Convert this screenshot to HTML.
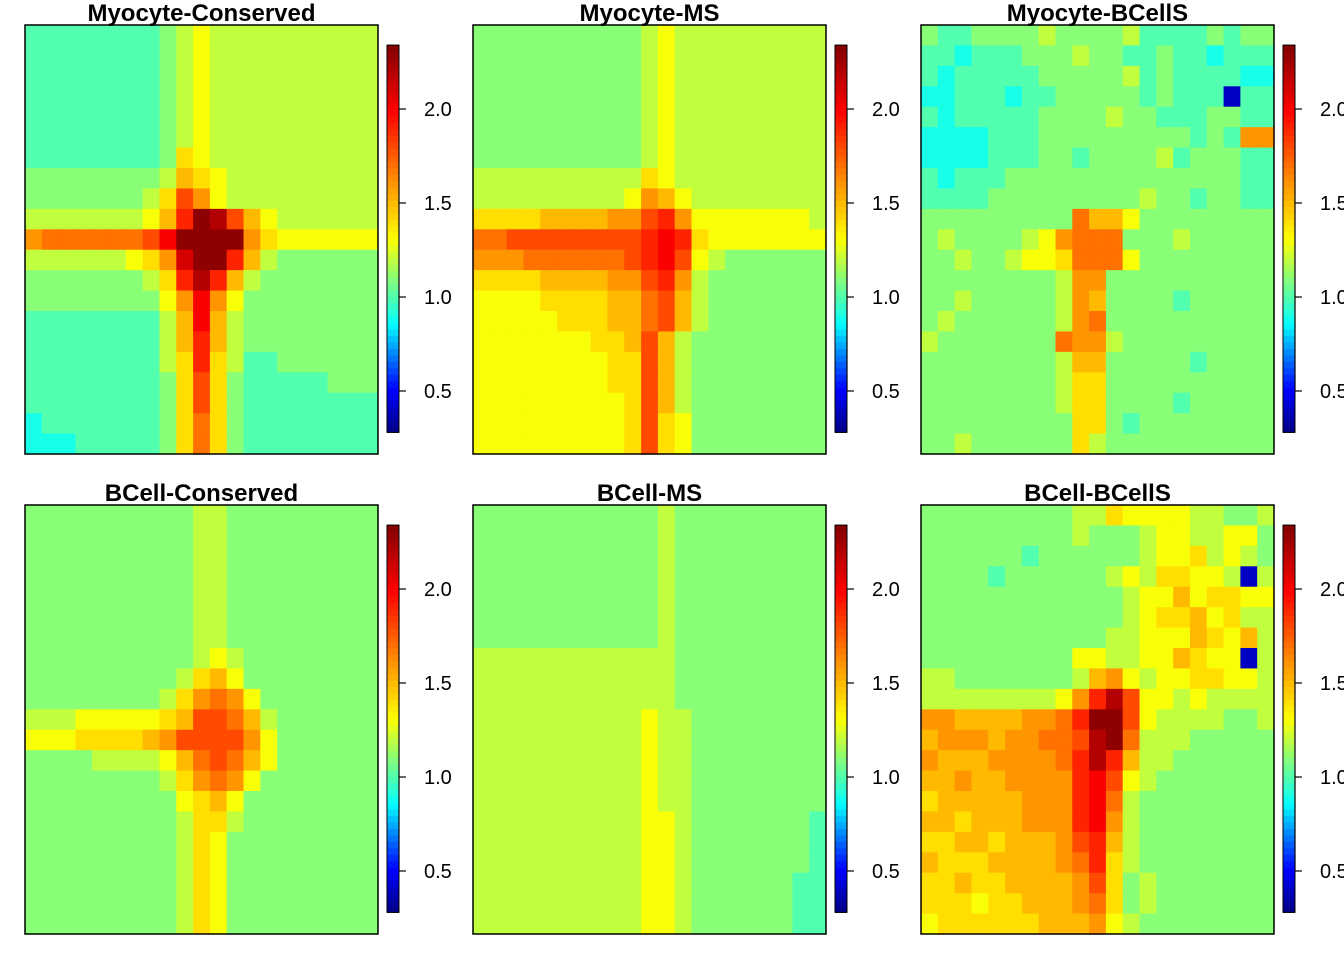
<!DOCTYPE html>
<html><head><meta charset="utf-8"><style>
html,body{margin:0;padding:0;background:#fff;overflow:hidden}
svg{display:block}
</style></head><body>
<svg id="fig" width="1344" height="960" viewBox="0 0 1344 960" xmlns="http://www.w3.org/2000/svg" font-family="Liberation Sans, Arial, sans-serif"></svg>
<script>
// Value encoding: letter index k -> value 0.3 + 0.1*k (a=0.3 ... u=2.3)
const panelTitles = ["Myocyte-Conserved","Myocyte-MS","Myocyte-BCellS","BCell-Conserved","BCell-MS","BCell-BCellS"];
const colorbarTicks = [0.5, 1.0, 1.5, 2.0];
const colorbarTickLabels = ["0.5","1.0","1.5","2.0"];
const scaleMin = 0.28, scaleMax = 2.34;
const gridMC = ["hhhhhhhhijkjjjjjjjjjj","hhhhhhhhijkjjjjjjjjjj","hhhhhhhhijkjjjjjjjjjj","hhhhhhhhijkjjjjjjjjjj","hhhhhhhhijkjjjjjjjjjj","hhhhhhhhijkjjjjjjjjjj","hhhhhhhhilkjjjjjjjjjj","iiiiiiiijmlkjjjjjjjjj","iiiiiiijlpnkjjjjjjjjj","jjjjjjjkmqutpmkjjjjjj","noooooopruuuunlkkkkkk","jjjjjjklnsuuqmjiiiiii","iiiiiiijlqtqmjiiiiiii","iiiiiiiiknrnkiiiiiiii","hhhhhhhhjmrmjiiiiiiii","hhhhhhhhjmqmjiiiiiiii","hhhhhhhhjlqljhhiiiiii","hhhhhhhhilplihhhhhiii","hhhhhhhhilplihhhhhhhh","ghhhhhhhilolihhhhhhhh","ggghhhhhilolihhhhhhhh"];
const gridMMS = ["iiiiiiiiiijkjjjjjjjjj","iiiiiiiiiijkjjjjjjjjj","iiiiiiiiiijkjjjjjjjjj","iiiiiiiiiijkjjjjjjjjj","iiiiiiiiiijkjjjjjjjjj","iiiiiiiiiijkjjjjjjjjj","iiiiiiiiiijkjjjjjjjjj","jjjjjjjjjjlkjjjjjjjjj","jjjjjjjjjknmkjjjjjjjj","llllmmmmnnpqnkkkkkkkj","ooppppppppqrqlkkkkkkk","nnnoooooopqrpkjiiiiii","llllmmmmnnpqnjiiiiiii","kkkkllllmmopmjiiiiiii","kkkkklllmmopmjiiiiiii","kkkkkkkllmpmjiiiiiiii","kkkkkkkkllpmjiiiiiiii","kkkkkkkkllpmjiiiiiiii","kkkkkkkkklpmjiiiiiiii","kkkkkkkkklplkiiiiiiii","kkkkkkkkklplkiiiiiiii"];
const gridMB = ["ihhiiiijiiiijhhhhihii","hhghhhiiijiihhihhghhh","hghhhhhiiiiijhihhhhgg","gghhhghhiiiiihihhhbhh","hghhhhhiiiijiihhhiihh","gggghhhiiiiiiiiihihnn","gggghhhiihiiiijhiiihh","hghhhiiiiiiiiiiiiiihh","hhhhiiiiiiiiijiihiihh","iiiiiiiiiommkiiiiiiii","ijiiiijknoooiiijiiiii","iijiijkkloookiiiiiiii","iiiiiiiijnniiiiiiiiii","iijiiiiijnmiiiihiiiii","ijiiiiiijnoiiiiiiiiii","jiiiiiiionnjiiiiiiiii","iiiiiiiijmmiiiiihiiii","iiiiiiiijlliiiiiiiiii","iiiiiiiijlliiiihiiiii","iiiiiiiiillihiiiiiiii","iijiiiiiiljiiiiiiiiii"];
const gridBC = ["iiiiiiiiiijjiiiiiiiii","iiiiiiiiiijjiiiiiiiii","iiiiiiiiiijjiiiiiiiii","iiiiiiiiiijjiiiiiiiii","iiiiiiiiiijjiiiiiiiii","iiiiiiiiiijjiiiiiiiii","iiiiiiiiiijjiiiiiiiii","iiiiiiiiiijkjiiiiiiii","iiiiiiiiijlmkiiiiiiii","iiiiiiiijlnonkiiiiiii","jjjkkkkklmppomjiiiiii","kkkllllmnppppnkiiiiii","iiiijjjjkmopomkiiiiii","iiiiiiiijlnonkiiiiiii","iiiiiiiiiklmkiiiiiiii","iiiiiiiiijlljiiiiiiii","iiiiiiiiijlkiiiiiiiii","iiiiiiiiijlkiiiiiiiii","iiiiiiiiijlkiiiiiiiii","iiiiiiiiijlkiiiiiiiii","iiiiiiiiijlkiiiiiiiii"];
const gridBMS = ["iiiiiiiiiiijiiiiiiiii","iiiiiiiiiiijiiiiiiiii","iiiiiiiiiiijiiiiiiiii","iiiiiiiiiiijiiiiiiiii","iiiiiiiiiiijiiiiiiiii","iiiiiiiiiiijiiiiiiiii","iiiiiiiiiiijiiiiiiiii","jjjjjjjjjjjjiiiiiiiii","jjjjjjjjjjjjiiiiiiiii","jjjjjjjjjjjjiiiiiiiii","jjjjjjjjjjkjjiiiiiiii","jjjjjjjjjjkjjiiiiiiii","jjjjjjjjjjkjjiiiiiiii","jjjjjjjjjjkjjiiiiiiii","jjjjjjjjjjkjjiiiiiiii","jjjjjjjjjjkkjiiiiiiih","jjjjjjjjjjkkjiiiiiiih","jjjjjjjjjjkkjiiiiiiih","jjjjjjjjjjkkjiiiiiihh","jjjjjjjjjjkkjiiiiiihh","jjjjjjjjjjkkjiiiiiihh"];
const gridBB = ["iiiiiiiiijjlkkkkjjiij","iiiiiiiiijiiijkkjjkki","iiiiiihiiiiiijkkljkji","iiiihiiiiiijkjllkkjbj","iiiiiiiiiiiijkkmkllkk","iiiiiiiiiiiijkllmkljj","iiiiiiiiiiijjkkkmlkmj","iiiiiiiiikkjjkkmlkkbj","jjiiiiiiijmnkjkkllkkj","jjjjjjjjknqtpkkjkjjjj","nnmmmmnnoquupkjjjjiij","mnnnmnnooptuojjjiiiii","nmmmnnnnoqtqmjjiiiiii","mmnmmnnnnqrpkjiiiiiii","lmmmmmnnnqrojiiiiiiii","mmlmmmnnnqrnjiiiiiiii","llmmlmmmnpqmjiiiiiiii","mlllmmmmnoqljiiiiiiii","llmllmmmmnplijiiiiiii","lllkllmmmnolijiiiiiii","kllllllmmmnkjiiiiiiii"];
const panelGrids = [gridMC, gridMMS, gridMB, gridBC, gridBMS, gridBB];

const NS = "http://www.w3.org/2000/svg";
const svg = document.getElementById('fig');
const stops = [[0,[0,0,128]],[0.11,[0,0,255]],[0.2,[0,128,255]],[0.28,[0,255,255]],[0.39,[128,255,128]],[0.5,[255,255,0]],[0.67,[255,128,0]],[0.83,[255,0,0]],[1,[128,0,0]]];
function colorOf(v){
  let t = (v - scaleMin)/(scaleMax - scaleMin);
  t = Math.max(0, Math.min(1, t));
  for (let i=1;i<stops.length;i++){
    if (t <= stops[i][0]){
      const a=stops[i-1], b=stops[i], f=(t-a[0])/(b[0]-a[0]);
      const c=a[1].map((x,k)=>Math.round(x+(b[1][k]-x)*f));
      return `rgb(${c[0]},${c[1]},${c[2]})`;
    }
  }
  return 'rgb(128,0,0)';
}
function decode(ch){ return 0.3 + 0.1*(ch.charCodeAt(0)-97); }
function mk(tag, attrs){ const e=document.createElementNS(NS,tag); for(const k in attrs) e.setAttribute(k, attrs[k]); return e; }

const panelX = [25, 473, 921], panelY = [25, 505], PW = 353, PH = 429, NC = 21, NR = 21;
panelGrids.forEach((grid, p) => {
  const px = panelX[p%3], py = panelY[Math.floor(p/3)];
  const g = mk('g', {});
  
  
  svg.appendChild(g);
  const xs = c => px + c*PW/NC, ys = r => py + r*PH/NR;
  grid.forEach((row, r) => {
    for (let c=0;c<NC;c++){
      const ch = row[Math.min(c, row.length-1)];
      const rect = mk('rect', {x: xs(c).toFixed(2), y: ys(r).toFixed(2), width:(PW/NC+0.6).toFixed(2), height:(PH/NR+0.6).toFixed(2), fill: colorOf(decode(ch))});
      
      
      g.appendChild(rect);
    }
  });
  const frame = mk('rect', {x:px, y:py, width:PW, height:PH, fill:'none', stroke:'#000', 'stroke-width':1.5});
  
  
  g.appendChild(frame);
  const title = mk('text', {x: px+PW/2, y: py-4, 'text-anchor':'middle', 'font-size':24, 'font-weight':'bold', fill:'#000'});
  title.textContent = panelTitles[p];
  
  
  g.appendChild(title);
  // colorbar
  const cbx = px + 362;
  const vy = v => py + 84 + (2.0 - v)*188;
  const cb = mk('g', {});
  
  
  g.appendChild(cb);
  const nb = 60;
  for (let i=0;i<nb;i++){
    const v0 = scaleMin + (scaleMax-scaleMin)*i/nb, v1 = scaleMin + (scaleMax-scaleMin)*(i+1)/nb;
    const y1 = vy(v1), y0 = vy(v0);
    const rr = mk('rect', {x:cbx, y:y1.toFixed(2), width:12, height:(y0-y1+0.5).toFixed(2), fill: colorOf((v0+v1)/2)});
    
    
    cb.appendChild(rr);
  }
  const cbf = mk('rect', {x:cbx, y:vy(scaleMax), width:12, height:vy(scaleMin)-vy(scaleMax), fill:'none', stroke:'#000', 'stroke-width':1});
  
  
  cb.appendChild(cbf);
  const axl = mk('line', {x1:cbx+12, x2:cbx+12, y1:vy(colorbarTicks[colorbarTicks.length-1]), y2:vy(colorbarTicks[0]), stroke:'#000', 'stroke-width':1.2});
  
  
  cb.appendChild(axl);
  colorbarTicks.forEach((v, i) => {
    const tl = mk('line', {x1:cbx+12, x2:cbx+19, y1:vy(v), y2:vy(v), stroke:'#000', 'stroke-width':1.2});
    
    
    cb.appendChild(tl);
    const tx = mk('text', {x:cbx+37, y:vy(v)+7, 'font-size':20, fill:'#000'});
    tx.textContent = colorbarTickLabels[i];
    
    
    cb.appendChild(tx);
  });
});
</script>
</body></html>
